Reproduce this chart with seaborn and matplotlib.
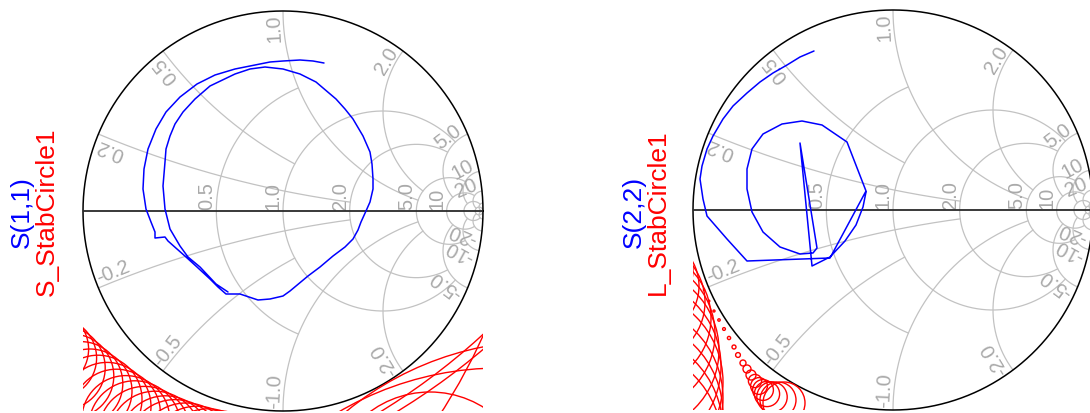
import numpy as np
import matplotlib
matplotlib.use('Agg')
import matplotlib.pyplot as plt
from matplotlib.patches import Circle
import seaborn as sns

# ---- Smith chart grid ----
r_circles = [0.5, 1, 2, 5, 10, 20, 50]
r_circle_xmax = [1, 5, 5, 10, 20, 50, None]
x_arcs = [0.2, 0.5, 1, 2, 5, 10, 20, 50]
x_arc_rmax = [2, 1, 5, 5, 10, 20, 50, None]
r_label_vals = [0.5, 1, 2, 5, 10]
r_label_text = ["0.5", "1.0", "2.0", "5.0", "10"]
x_label_vals = [0.2, 0.5, 1, 2, 5, 10, 20]
x_label_text = ["0.2", "0.5", "1.0", "2.0", "5.0", "10", "20"]

# ---- S(1,1) trace (reflection coefficient, re / im) ----
s11_re = [0.205, 0.150, 0.085, 0.000, -0.065, -0.140, -0.240, -0.340, -0.430, -0.515,
          -0.585, -0.635, -0.675, -0.695, -0.700, -0.685, -0.660, -0.640, -0.640, -0.590,
          -0.575, -0.530, -0.485, -0.430, -0.365, -0.325, -0.285, -0.215, -0.125, -0.065,
          0.000, 0.035, 0.125, 0.185, 0.250, 0.310, 0.350, 0.375, 0.390, 0.415,
          0.435, 0.450, 0.450, 0.445, 0.435, 0.400, 0.350, 0.310, 0.265, 0.165,
          0.085, 0.000, -0.090, -0.165, -0.240, -0.365, -0.440, -0.500, -0.540, -0.565,
          -0.585, -0.590, -0.600, -0.590, -0.565, -0.515, -0.475, -0.415, -0.335, -0.275]
s11_im = [0.740, 0.750, 0.755, 0.750, 0.745, 0.730, 0.710, 0.680, 0.635, 0.570,
          0.495, 0.410, 0.310, 0.210, 0.110, 0.010, -0.055, -0.105, -0.135, -0.130,
          -0.150, -0.190, -0.230, -0.280, -0.340, -0.380, -0.415, -0.415, -0.445, -0.440,
          -0.425, -0.400, -0.325, -0.280, -0.225, -0.180, -0.140, -0.095, -0.055, 0.000,
          0.045, 0.110, 0.160, 0.235, 0.295, 0.375, 0.460, 0.510, 0.560, 0.645,
          0.685, 0.710, 0.720, 0.710, 0.685, 0.625, 0.560, 0.495, 0.435, 0.375,
          0.310, 0.245, 0.125, 0.010, -0.090, -0.175, -0.230, -0.280, -0.365, -0.405]

# ---- S(2,2) trace ----
s22_re = [-0.395, -0.465, -0.530, -0.600, -0.665, -0.730, -0.800, -0.850, -0.900, -0.930,
          -0.955, -0.965, -0.950, -0.930, -0.830, -0.730, -0.315, -0.135, -0.230, -0.355,
          -0.455, -0.555, -0.650, -0.705, -0.730, -0.730, -0.705, -0.650, -0.565, -0.465,
          -0.400, -0.380, -0.465, -0.405, -0.315, -0.240, -0.185, -0.150, -0.135]
s22_im = [0.795, 0.765, 0.725, 0.685, 0.640, 0.585, 0.520, 0.455, 0.370, 0.305,
          0.220, 0.155, 0.055, -0.030, -0.145, -0.255, -0.240, 0.095, 0.340, 0.425,
          0.445, 0.430, 0.380, 0.305, 0.205, 0.105, -0.010, -0.110, -0.185, -0.220,
          -0.215, -0.190, 0.335, -0.280, -0.235, -0.155, -0.075, 0.015, 0.090]

# ---- source stability circles (centre re, centre im, radius) ----
sstab_cx = [-1.210, -1.172, -1.132, -1.099, -1.056, -1.011, -0.965, -0.925, -0.880, -0.833,
            -0.786, -0.741, -0.692, -0.640, -0.588, -0.540, -0.486, -0.431, -0.375, -0.323,
            1.085, 0.735, -1.27, -1.20, -1.70, 1.30]
sstab_cy = [-0.643, -0.691, -0.735, -0.784, -0.825, -0.863, -0.900, -0.941, -0.977, -1.011,
            -1.043, -1.079, -1.107, -1.131, -1.154, -1.183, -1.200, -1.216, -1.229, -1.249,
            -2.375, -1.41, 1.86, 1.90, 0.60, -2.20]
sstab_r = [0.20, 0.20, 0.20, 0.21, 0.21, 0.21, 0.21, 0.22, 0.22, 0.22,
           0.22, 0.23, 0.23, 0.23, 0.23, 0.24, 0.24, 0.24, 0.24, 0.25,
           1.59, 0.505, 3.36, 3.40, 2.965, 1.55]

# ---- load stability circles ----
lstab_cx = [-1.20, -1.22, -1.24, -1.25, -1.27, -1.28, -1.30, -1.31, -1.32, -1.33, -1.34, -1.35,
            -0.945, -0.920, -0.895, -0.870, -0.845, -0.820, -0.795, -0.775, -0.750, -0.730,
            -0.710, -0.690, -0.670, -0.650, -0.630, -0.605, -0.575, -0.545]
lstab_cy = [-0.30, -0.38, -0.46, -0.54, -0.62, -0.70, -0.78, -0.86, -0.94, -1.02, -1.10, -1.18,
            -0.400, -0.455, -0.505, -0.550, -0.595, -0.640, -0.685, -0.725, -0.765, -0.795,
            -0.825, -0.855, -0.880, -0.900, -0.920, -0.935, -0.950, -0.965]
lstab_r = [0.20, 0.25, 0.30, 0.34, 0.38, 0.41, 0.44, 0.46, 0.47, 0.48, 0.49, 0.50,
           0.003, 0.004, 0.005, 0.006, 0.007, 0.008, 0.010, 0.012, 0.015, 0.020,
           0.025, 0.033, 0.042, 0.052, 0.063, 0.076, 0.090, 0.105]

GRID = '#c2c2c2'
LABEL = '#a9a9a9'


def gamma(z):
    return (z - 1) / (z + 1)


def draw_grid(ax):
    for r, xm in zip(r_circles, r_circle_xmax):
        lim = np.pi / 2 - 1e-4 if xm is None else np.arctan(xm / (1 + r))
        x = (1 + r) * np.tan(np.linspace(-lim, lim, 721))
        g = gamma(r + 1j * x)
        ax.plot(g.real, g.imag, color=GRID, lw=0.9, zorder=1)
    for xv, rm in zip(x_arcs, x_arc_rmax):
        lim = np.pi / 2 - 1e-4 if rm is None else np.arctan(rm / xv)
        r = xv * np.tan(np.linspace(0, lim, 500))
        for s in (1, -1):
            g = gamma(r + 1j * s * xv)
            ax.plot(g.real, g.imag, color=GRID, lw=0.9, zorder=1)

    # labels on the real axis
    for rv, t in zip(r_label_vals, r_label_text):
        ax.text(gamma(rv), 0.012, t, rotation=90, rotation_mode='anchor',
                ha='left', va='bottom', color=LABEL, fontsize=14.5, zorder=2)

    # labels of reactance arcs, next to the outer circle
    for xv, t in zip(x_label_vals, x_label_text):
        R = 1.0 / xv
        r = xv * np.tan(np.linspace(0, np.pi / 2 - 1e-3, 30001))
        for s in (1, -1):
            g = gamma(r + 1j * s * xv)
            seg = np.abs(np.diff(g))
            sl = np.concatenate([[0], np.cumsum(seg)])
            ia = min(np.searchsorted(sl, 0.012), len(g) - 2)
            ir = min(np.searchsorted(sl, min(0.05, 0.3 * R)), len(g) - 2)
            d = g[ir + 1] - g[ir]
            if s > 0:
                rot = np.degrees(np.angle(-d))
                ax.text(g[ia].real, g[ia].imag, t, rotation=rot, rotation_mode='anchor',
                        ha='right', va='bottom', color=LABEL, fontsize=14.5, zorder=2)
            else:
                rot = np.degrees(np.angle(d))
                ax.text(g[ia].real, g[ia].imag, '-' + t, rotation=rot, rotation_mode='anchor',
                        ha='left', va='bottom', color=LABEL, fontsize=14.5, zorder=2)

    t = np.linspace(0, 2 * np.pi, 721)
    ax.plot(np.cos(t), np.sin(t), color='black', lw=1.1, zorder=3, clip_on=False)
    ax.plot([-1, 1], [0, 0], color='#2a2a2a', lw=1.3, zorder=3)


sns.set_theme(style='white')
plt.rcParams['font.family'] = ['Liberation Sans', 'DejaVu Sans']

fig = plt.figure(figsize=(10.9, 4.14), dpi=100)
ax1 = fig.add_axes([83 / 1090, 2 / 414, 400 / 1090, 400 / 414])
ax2 = fig.add_axes([693 / 1090, 3 / 414, 400 / 1090, 400 / 414])

for ax in (ax1, ax2):
    ax.set_xlim(-1, 1)
    ax.set_ylim(-1, 1)
    ax.axis('off')
    draw_grid(ax)

for cx, cy, rr in zip(sstab_cx, sstab_cy, sstab_r):
    ax1.add_patch(Circle((cx, cy), rr, fill=False, ec='red', lw=1.0, zorder=4))
for cx, cy, rr in zip(lstab_cx, lstab_cy, lstab_r):
    ax2.add_patch(Circle((cx, cy), rr, fill=False, ec='red', lw=1.0, zorder=4))

sns.lineplot(x=s11_re, y=s11_im, sort=False, estimator=None, color='blue', lw=1.1, ax=ax1, zorder=5)
sns.lineplot(x=s22_re, y=s22_im, sort=False, estimator=None, color='blue', lw=1.1, ax=ax2, zorder=5)
for ax in (ax1, ax2):
    ax.set_xlim(-1, 1)
    ax.set_ylim(-1, 1)

yc = 1 - 212 / 414
fig.text(22 / 1090, yc, 'S(1,1)', rotation=90, color='blue', fontsize=19, ha='center', va='center')
fig.text(47 / 1090, yc, 'S_StabCircle1', rotation=90, color='red', fontsize=19, ha='center', va='center')
fig.text(634 / 1090, yc, 'S(2,2)', rotation=90, color='blue', fontsize=19, ha='center', va='center')
fig.text(658 / 1090, yc, 'L_StabCircle1', rotation=90, color='red', fontsize=19, ha='center', va='center')

fig.savefig('out.png', dpi=100)
plt.close(fig)
